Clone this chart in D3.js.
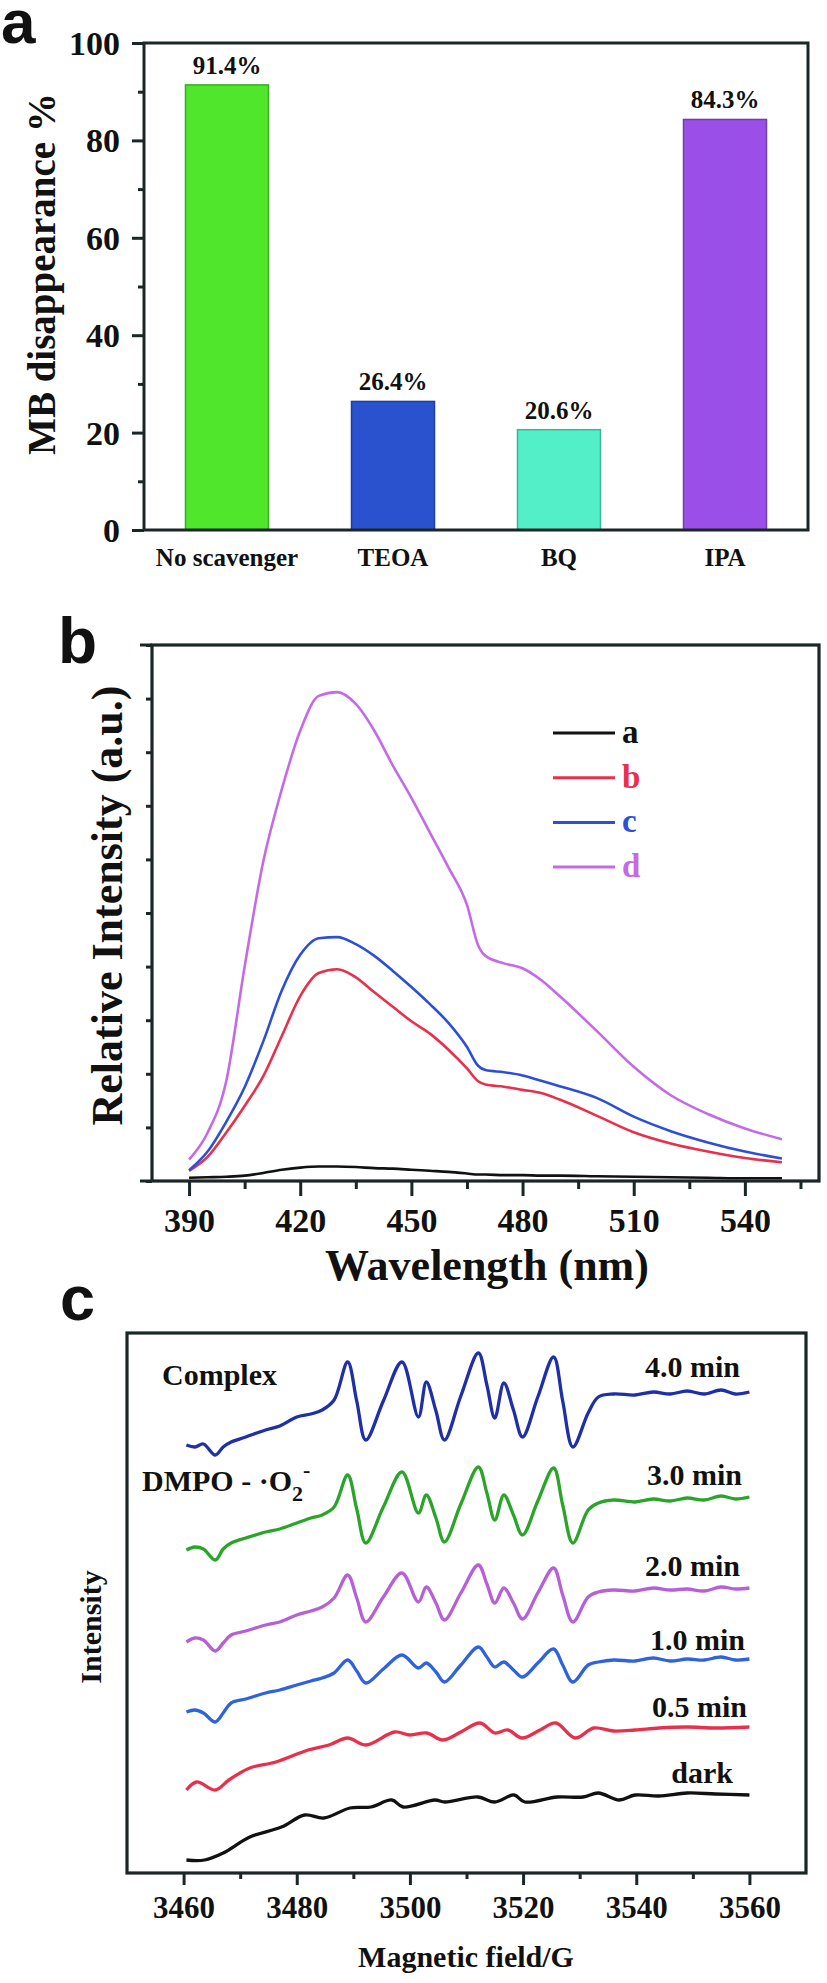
<!DOCTYPE html>
<html><head><meta charset="utf-8">
<script src="https://cdn.jsdelivr.net/npm/d3@7"></script>
<style>
body{margin:0;background:#fff}
svg text{font-family:"Liberation Serif","Times New Roman",serif;font-weight:bold;fill:#111}
</style>
</head><body>
<svg id="fig" width="827" height="1983"></svg>
<script>
// ---------- Panel a data ----------
const scavengers = ["No scavenger", "TEOA", "BQ", "IPA"];
const disappearance = [91.4, 26.4, 20.6, 84.3];
const barLabels = ["91.4%", "26.4%", "20.6%", "84.3%"];
const barColors = ["#4fe62c", "#2a52cf", "#52efc8", "#9a50e8"];
const aMajorTicks = [0, 20, 40, 60, 80, 100];
const aMinorTicks = [10, 30, 50, 70, 90];

// ---------- Panel b data ----------
const wavelength = [390,395,400,405,410,415,420,425,430,435,440,445,450,455,460,465,468,470,475,480,485,490,500,510,520,530,540,550];
const plA = [0.06,0.07,0.08,0.10,0.15,0.21,0.25,0.27,0.27,0.26,0.24,0.23,0.21,0.19,0.17,0.14,0.12,0.12,0.11,0.11,0.10,0.10,0.09,0.08,0.07,0.06,0.05,0.05];
const plB = [0.19,0.45,0.90,1.40,1.95,2.70,3.45,3.88,3.95,3.80,3.52,3.25,2.98,2.75,2.45,2.10,1.86,1.80,1.76,1.70,1.64,1.52,1.22,0.91,0.70,0.55,0.43,0.35];
const plC = [0.20,0.55,1.10,1.75,2.60,3.55,4.22,4.53,4.55,4.42,4.20,3.92,3.62,3.30,2.95,2.50,2.15,2.07,2.03,1.97,1.87,1.77,1.55,1.20,0.93,0.72,0.55,0.42];
const plD = [0.40,0.90,1.85,4.00,5.95,7.30,8.40,9.05,9.12,8.90,8.40,7.75,7.15,6.50,5.85,5.15,4.40,4.20,4.06,3.97,3.75,3.45,2.80,2.13,1.60,1.25,0.98,0.78];
const plNames = ["a", "b", "c", "d"];
const plColors = ["#111111", "#e8304c", "#2d4fd8", "#c46ae8"];
const bXTicks = [390, 420, 450, 480, 510, 540];
const bXMinor = [405, 435, 465, 495, 525, 555];
const bYTicks = [0,1,2,3,4,5,6,7,8,9,10];

// ---------- Panel c data ----------
const fieldDark = [3460.5,3463.7,3467,3471.7,3477.3,3481.4,3484.8,3489.4,3493.1,3496.8,3498.8,3504.4,3506.2,3512,3515,3518.4,3520.3,3526,3530.6,3533.3,3537,3539.8,3544,3549,3554,3560];
const epr0   = [1.3,1.3,2.0,3.6,4.6,5.8,5.5,6.5,6.6,7.3,6.6,7.3,7.1,7.6,7.1,7.8,7.1,7.6,7.6,8.0,7.3,7.8,7.7,8.0,7.9,7.8];
const field05 = [3460.5,3462.3,3465.6,3468,3471.7,3476.3,3482,3485.7,3489,3492.2,3497.3,3500,3503,3505.8,3509,3512.4,3515,3517.3,3519.8,3523,3525.8,3529.2,3532.5,3536,3539.8,3544,3549,3554,3560];
const epr05  = [8.3,9.1,8.3,9.3,10.5,11.1,12.3,12.8,13.5,12.8,14.1,13.8,14.0,13.3,14.1,15.0,14.0,14.3,13.5,14.3,15.0,13.5,14.5,14.2,14.3,14.5,14.6,14.5,14.6];
const fieldSig = [3460.5,3462,3463.5,3465.6,3467,3468.4,3471,3474.5,3477,3480,3482.5,3484.5,3486.6,3489,3490.6,3492.2,3495.3,3498.6,3501.5,3502.9,3504.6,3506.1,3509,3512.1,3513.6,3515,3516.6,3518.3,3519.9,3522.6,3525.4,3527,3528.8,3531.5,3533.3,3536,3539.8,3543,3546,3549,3552,3555,3557.5,3560];
const epr1 = [16.1,16.3,16.0,15.1,16.0,17.0,17.4,18.0,18.3,18.8,19.2,19.5,20.0,21.3,20.2,19.0,20.4,21.8,20.5,21.0,20.1,19.1,20.8,22.6,21.6,20.6,21.1,20.3,19.6,21.0,22.4,20.8,19.1,20.8,21.1,21.3,21.2,21.5,21.2,21.4,21.3,21.6,21.3,21.4];
const epr2 = [23.1,23.5,23.3,22.2,23.0,23.8,24.2,24.8,25.1,25.8,26.2,26.6,27.5,29.8,27.5,25.1,27.6,30.0,27.1,28.6,27.0,25.3,28.0,30.8,28.9,27.0,28.5,27.0,25.4,28.0,30.5,27.8,25.1,27.6,28.1,28.3,28.2,28.5,28.3,28.4,28.2,28.6,28.4,28.5];
const epr3 = [32.3,32.6,32.4,31.3,32.4,33.0,33.5,34.1,34.4,35.0,35.5,35.8,36.6,39.8,36.4,33.0,36.6,40.1,36.0,37.8,35.5,33.1,36.9,40.6,38.0,35.3,37.8,35.8,33.8,37.2,40.5,36.8,33.0,36.3,37.0,37.3,37.1,37.4,37.2,37.5,37.3,37.7,37.4,37.6];
const epr4 = [42.8,42.6,42.9,41.8,42.6,43.1,43.6,44.3,44.7,45.6,45.9,46.3,47.3,51.1,47.2,43.3,47.2,51.1,45.6,49.1,46.2,43.3,47.7,52.0,48.8,45.5,49.0,46.3,43.6,47.6,51.6,47.2,42.6,46.0,47.6,47.9,47.8,48.1,47.9,48.2,47.9,48.3,47.9,48.1];
const eprLabels = ["4.0 min", "3.0 min", "2.0 min", "1.0 min", "0.5 min", "dark"];
const eprColors = ["#1f2fa8", "#2aa52a", "#b55fd8", "#2f62e0", "#e8304c", "#111111"];
const cXTicks = [3460, 3480, 3500, 3520, 3540, 3560];
const cXMinor = [3470, 3490, 3510, 3530, 3550];

const svg = d3.select("#fig");
const frameCol = "#1b2626";
const sans = "'Liberation Sans',Arial,sans-serif";

// =============== Panel a ===============
{
  const L = 144, R = 808, T = 43, B = 530;
  const x = d3.scaleBand().domain(scavengers).range([L, R]).paddingInner(0.5).paddingOuter(0.25);
  const y = d3.scaleLinear().domain([0, 100]).range([B, T]);
  const g = svg.append("g");
  g.append("text").attr("x", 1).attr("y", 43)
    .style("font-size", "62px").style("font-family", sans).text("a");
  g.selectAll("rect.bar").data(disappearance).join("rect")
    .attr("x", (d, i) => x(scavengers[i])).attr("width", x.bandwidth())
    .attr("y", d => y(d)).attr("height", d => B - y(d))
    .attr("fill", (d, i) => barColors[i])
    .attr("stroke", (d, i) => d3.color(barColors[i]).darker(0.8)).attr("stroke-width", 1.5);
  g.selectAll("text.bl").data(disappearance).join("text")
    .attr("x", (d, i) => x(scavengers[i]) + x.bandwidth() / 2).attr("y", d => y(d) - 11)
    .attr("text-anchor", "middle").style("font-size", "25px").text((d, i) => barLabels[i]);
  const ya = g.append("g").attr("transform", `translate(${L},0)`)
    .call(d3.axisLeft(y).tickValues(aMajorTicks).tickSize(12).tickPadding(12));
  ya.selectAll("text").style("font-size", "34px").attr("dy", "0.34em");
  const ym = g.append("g").attr("transform", `translate(${L},0)`)
    .call(d3.axisLeft(y).tickValues(aMinorTicks).tickSize(6).tickFormat(""));
  [ya, ym].forEach(a => { a.select(".domain").remove(); a.selectAll("line").attr("stroke", frameCol).attr("stroke-width", 3); });
  const xa = g.append("g").attr("transform", `translate(0,${B})`)
    .call(d3.axisBottom(x).tickSize(0).tickPadding(30));
  xa.select(".domain").remove();
  xa.selectAll("text").style("font-size", "25px").attr("dy", "0.25em");
  g.append("rect").attr("x", L).attr("y", T).attr("width", R - L).attr("height", B - T)
    .attr("fill", "none").attr("stroke", frameCol).attr("stroke-width", 3);
  g.append("text").attr("transform", `translate(55,274) rotate(-90)`)
    .attr("text-anchor", "middle").style("font-size", "39px").text("MB disappearance %");
}

// =============== Panel b ===============
{
  const L = 152, R = 819, T = 645, B = 1181;
  const x = d3.scaleLinear().domain([380, 560]).range([L, R]);
  const y = d3.scaleLinear().domain([0, 10]).range([B, T]);
  const g = svg.append("g");
  g.append("text").attr("x", 58).attr("y", 663)
    .style("font-size", "64px").style("font-family", sans).text("b");
  const series = [plA, plB, plC, plD];
  const line = d3.line().x((d, i) => x(wavelength[i])).y(d => y(d)).curve(d3.curveMonotoneX);
  series.forEach((s, k) => {
    g.append("path").datum(s).attr("d", line).attr("fill", "none")
      .attr("stroke", plColors[k]).attr("stroke-width", 2.6);
  });
  const xa = g.append("g").attr("transform", `translate(0,${B})`)
    .call(d3.axisBottom(x).tickValues(bXTicks).tickSize(15).tickPadding(10).tickFormat(d3.format("d")));
  xa.selectAll("text").style("font-size", "34px").attr("dy", "0.75em");
  const xm = g.append("g").attr("transform", `translate(0,${B})`)
    .call(d3.axisBottom(x).tickValues(bXMinor).tickSize(8).tickFormat(""));
  const ya = g.append("g").attr("transform", `translate(${L},0)`)
    .call(d3.axisLeft(y).tickValues(bYTicks).tickSize(6).tickFormat(""));
  [xa, xm, ya].forEach(a => { a.select(".domain").remove(); a.selectAll("line").attr("stroke", frameCol).attr("stroke-width", 3); });
  g.append("line").attr("x1", L - 12).attr("x2", L).attr("y1", T).attr("y2", T).attr("stroke", frameCol).attr("stroke-width", 3);
  g.append("line").attr("x1", L - 12).attr("x2", L).attr("y1", B).attr("y2", B).attr("stroke", frameCol).attr("stroke-width", 3);
  g.append("rect").attr("x", L).attr("y", T).attr("width", R - L).attr("height", B - T)
    .attr("fill", "none").attr("stroke", frameCol).attr("stroke-width", 3.2);
  plNames.forEach((n, k) => {
    const yy = 733 + k * 44.7;
    g.append("line").attr("x1", 553).attr("x2", 615).attr("y1", yy).attr("y2", yy)
      .attr("stroke", plColors[k]).attr("stroke-width", 3);
    g.append("text").attr("x", 622).attr("y", yy + 10).style("font-size", "33px")
      .style("fill", plColors[k]).text(n);
  });
  g.append("text").attr("x", 487).attr("y", 1280).attr("text-anchor", "middle")
    .style("font-size", "44px").text("Wavelength (nm)");
  g.append("text").attr("transform", `translate(122,${(679 + 1132) / 2}) rotate(-90)`)
    .attr("text-anchor", "middle").style("font-size", "44px").text("Relative Intensity (a.u.)");
}

// =============== Panel c ===============
{
  const L = 127, R = 806, T = 1333, B = 1873;
  const x = d3.scaleLinear().domain([3450, 3570]).range([L, R]);
  const y = d3.scaleLinear().domain([0, 54]).range([B, T]);
  const g = svg.append("g");
  g.append("text").attr("x", 60).attr("y", 1320)
    .style("font-size", "63px").style("font-family", sans).text("c");
  const curves = [
    [fieldSig, epr4], [fieldSig, epr3], [fieldSig, epr2], [fieldSig, epr1], [field05, epr05], [fieldDark, epr0]
  ];
  curves.forEach(([fx, v], k) => {
    const line = d3.line().x((d, i) => x(fx[i])).y(d => y(d)).curve(d3.curveCatmullRom.alpha(0.5));
    g.append("path").datum(v).attr("d", line).attr("fill", "none")
      .attr("stroke", eprColors[k]).attr("stroke-width", 3.3).attr("stroke-linejoin", "round");
  });
  const labelY = [1377, 1485, 1576, 1650, 1717, 1783];
  const labelX = [740, 742, 740, 745, 747, 733];
  eprLabels.forEach((t, k) => {
    g.append("text").attr("x", labelX[k]).attr("y", labelY[k]).attr("text-anchor", "end")
      .style("font-size", "30px").text(t);
  });
  g.append("text").attr("x", 162).attr("y", 1385).style("font-size", "30px").text("Complex");
  const dm = g.append("text").attr("x", 142).attr("y", 1491).style("font-size", "30px");
  dm.append("tspan").text("DMPO - ·O");
  dm.append("tspan").attr("dy", 10).style("font-size", "22px").text("2");
  dm.append("tspan").attr("dy", -24).style("font-size", "22px").text("-");
  const xa = g.append("g").attr("transform", `translate(0,${B})`)
    .call(d3.axisBottom(x).tickValues(cXTicks).tickSize(12).tickPadding(10).tickFormat(d3.format("d")));
  xa.selectAll("text").style("font-size", "31px").attr("dy", "0.75em");
  const xm = g.append("g").attr("transform", `translate(0,${B})`)
    .call(d3.axisBottom(x).tickValues(cXMinor).tickSize(6).tickFormat(""));
  [xa, xm].forEach(a => { a.select(".domain").remove(); a.selectAll("line").attr("stroke", frameCol).attr("stroke-width", 3); });
  g.append("rect").attr("x", L).attr("y", T).attr("width", R - L).attr("height", B - T)
    .attr("fill", "none").attr("stroke", frameCol).attr("stroke-width", 3.2);
  g.append("text").attr("x", 466).attr("y", 1967).attr("text-anchor", "middle")
    .style("font-size", "30px").text("Magnetic field/G");
  g.append("text").attr("transform", `translate(101,1627) rotate(-90)`)
    .attr("text-anchor", "middle").style("font-size", "30px").text("Intensity");
}
</script>
</body></html>
